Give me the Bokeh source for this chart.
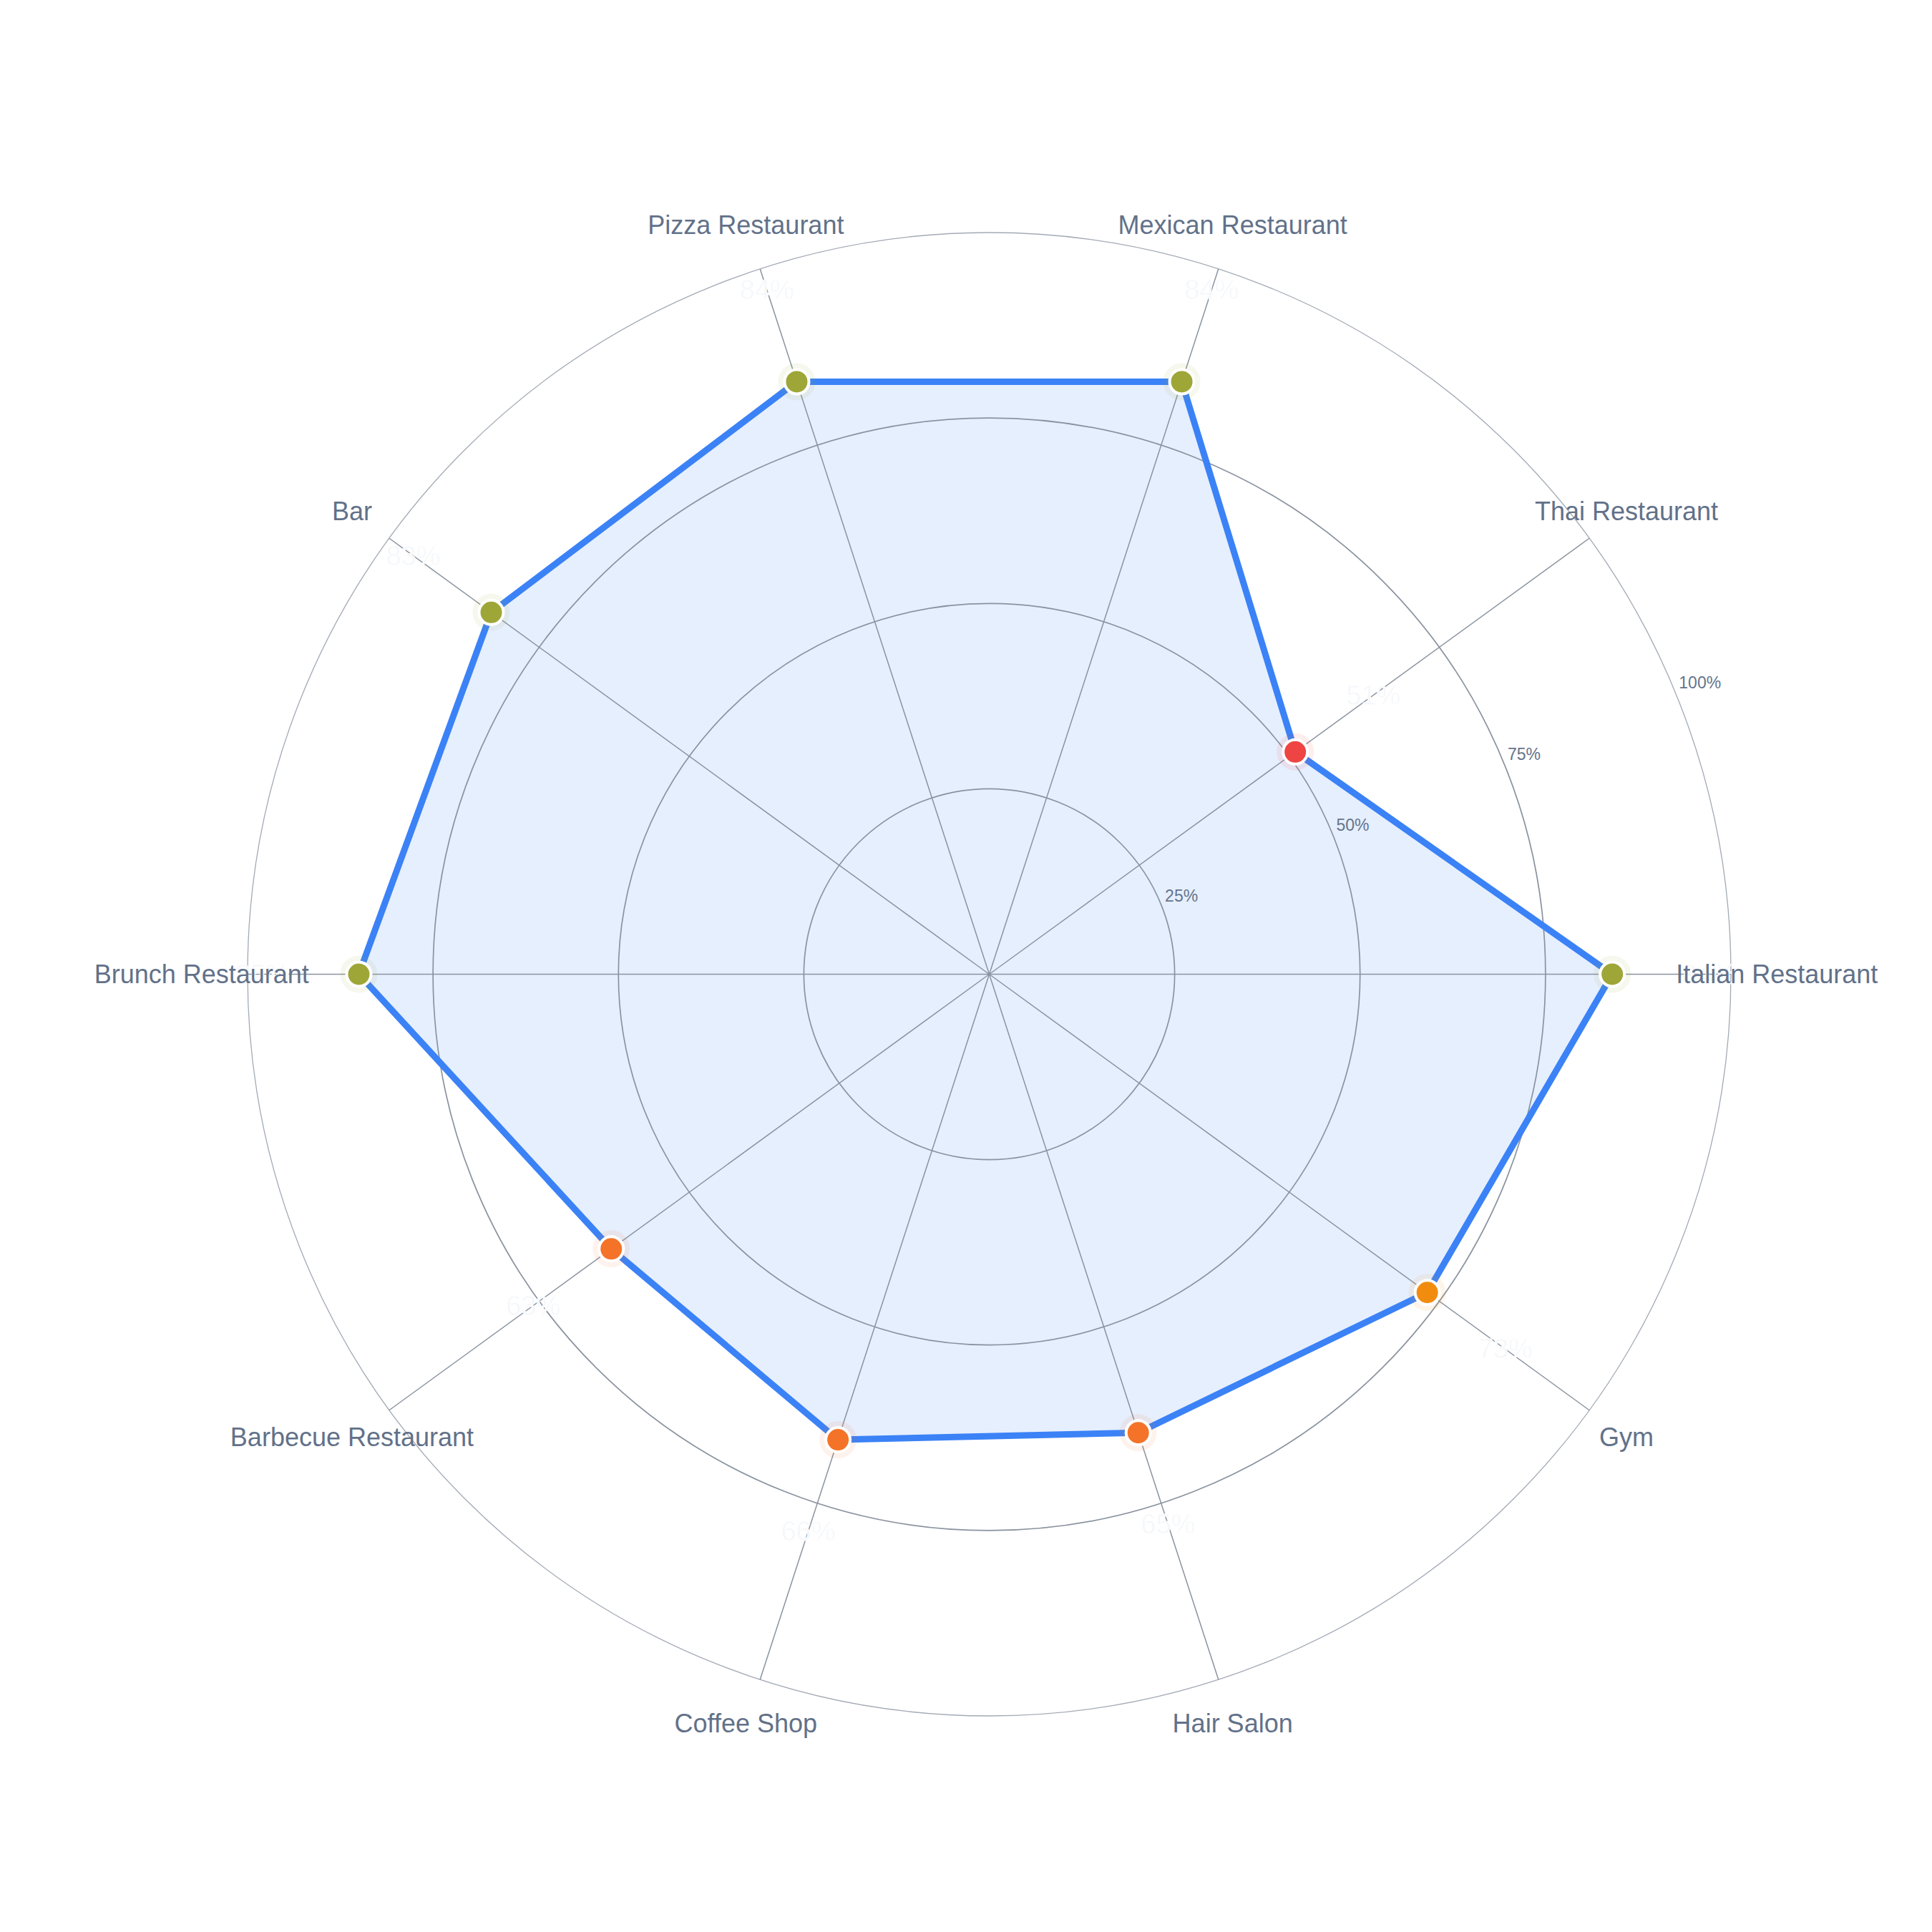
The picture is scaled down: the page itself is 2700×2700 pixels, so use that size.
import numpy as np
from bokeh.plotting import figure
from bokeh.models import ColumnDataSource
from bokeh.core.properties import value
from bokeh.embed import file_html
from bokeh.resources import INLINE

# ---- data ----
categories = ["Italian Restaurant", "Thai Restaurant", "Mexican Restaurant", "Pizza Restaurant",
              "Bar", "Brunch Restaurant", "Barbecue Restaurant", "Coffee Shop", "Hair Salon", "Gym"]
scores = [84, 51, 84, 84, 83, 85, 63, 66, 65, 73]
ring_levels = [25, 50, 75, 100]
ring_labels = ["25%", "50%", "75%", "100%"]

def color_for(v):
    if v >= 80:
        return "#9ea637"
    if v >= 70:
        return "#f28c0f"
    if v >= 55:
        return "#f47328"
    return "#ef4444"

W = 2684
CX, CY = 1382, 1361
PX = 10.365  # pixels per percent
p = figure(width=W, height=W, output_backend="svg", toolbar_location=None,
           x_range=(-CX / PX, (W - CX) / PX), y_range=(-(W - CY) / PX, CY / PX),
           min_border=0, background_fill_color="white", border_fill_color="white")
p.axis.visible = False
p.grid.visible = False
p.outline_line_color = None

n = len(categories)
ang = np.array([2 * np.pi * i / n for i in range(n)])
vals = np.array(scores, dtype=float)
xs = vals * np.cos(ang)
ys = vals * np.sin(ang)

# polygon fill
p.patch(list(xs), list(ys), fill_color="#3b82f6", fill_alpha=0.13, line_color=None)

# rings
for lv in ring_levels:
    if lv == 100:
        p.circle(x=[0], y=[0], radius=lv, fill_color=None, line_color="#a3aab5", line_width=1.3)
    else:
        p.circle(x=[0], y=[0], radius=lv, fill_color=None, line_color="#8a939f", line_width=1.7)

# spokes
p.segment(x0=[0] * n, y0=[0] * n, x1=list(100 * np.cos(ang)), y1=list(100 * np.sin(ang)),
          line_color="#8a939f", line_width=1.5)

# ring labels
ta = np.deg2rad(22.5)
p.text(x=[lv * np.cos(ta) + 0.6 for lv in ring_levels], y=[lv * np.sin(ta) + 1.0 for lv in ring_levels],
       text=ring_labels, text_font=value("Liberation Sans"), text_font_size="23px",
       text_color="#64748b", text_align="left", text_baseline="middle")

# outline of polygon
p.line(list(xs) + [xs[0]], list(ys) + [ys[0]], line_color="#3b82f6", line_width=9, line_join="round")

cols = [color_for(v) for v in scores]
src = ColumnDataSource(dict(x=xs, y=ys, c=cols))
p.scatter("x", "y", source=src, size=52, fill_color="c", fill_alpha=0.09, line_color=None)
p.scatter("x", "y", source=src, size=34, fill_color="c", line_color="white", line_width=4)

# value labels
off = 13.0
lx = (vals + off) * np.cos(ang)
ly = (vals + off) * np.sin(ang)
p.text(x=list(lx), y=list(ly), text=[f"{v}%" for v in scores], text_font=value("Liberation Sans"),
       text_font_size="38px", text_color="#f3f6fa", text_align="center", text_baseline="middle",
       text_outline_color="white")

# category labels
cr = 106.2
p.text(x=list(cr * np.cos(ang)), y=list(cr * np.sin(ang)), text=categories,
       text_font=value("Liberation Sans"), text_font_size="36px", text_color="#627189",
       text_align="center", text_baseline="middle")

open("out.html", "w").write(file_html(p, INLINE))
